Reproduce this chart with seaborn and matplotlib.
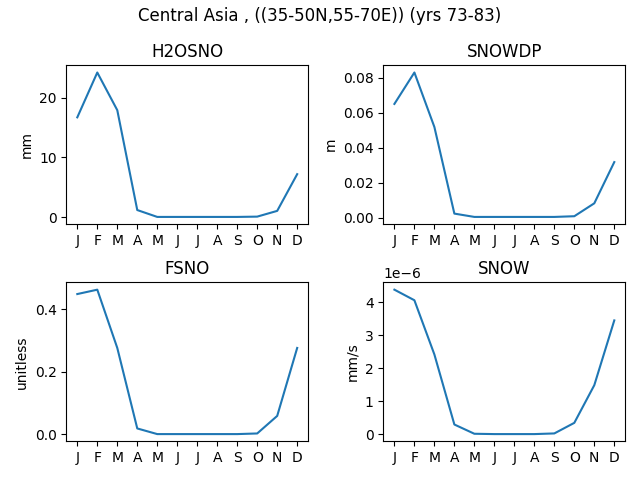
import matplotlib
matplotlib.use("Agg")
import matplotlib.pyplot as plt
import seaborn as sns
import pandas as pd

months = ["J", "F", "M", "A", "M", "J", "J", "A", "S", "O", "N", "D"]

h2osno = [16.7, 24.2, 17.9, 1.2, 0.05, 0.05, 0.05, 0.05, 0.05, 0.1, 1.06, 7.2]
snowdp = [0.0651, 0.0831, 0.0519, 0.0023, 0.0004, 0.0004, 0.0004, 0.0004, 0.0004, 0.0008, 0.0082, 0.0318]
fsno = [0.448, 0.462, 0.276, 0.019, 0.001, 0.001, 0.001, 0.001, 0.001, 0.003, 0.059, 0.276]
snow = [4.38e-6, 4.06e-6, 2.42e-6, 0.30e-6, 0.02e-6, 0.01e-6, 0.01e-6, 0.01e-6, 0.03e-6, 0.35e-6, 1.49e-6, 3.45e-6]

panels = [
    ("H2OSNO", "mm", h2osno),
    ("SNOWDP", "m", snowdp),
    ("FSNO", "unitless", fsno),
    ("SNOW", "mm/s", snow),
]

fig, axes = plt.subplots(2, 2, figsize=(6.4, 4.8), dpi=100)
fig.suptitle("Central Asia , ((35-50N,55-70E)) (yrs 73-83)", y=0.985)

for ax, (name, unit, vals) in zip(axes.flat, panels):
    df = pd.DataFrame({"month": range(12), "value": vals})
    sns.lineplot(data=df, x="month", y="value", ax=ax, color="#1f77b4")
    ax.set_title(name)
    ax.set_ylabel(unit)
    ax.set_xlabel("")
    ax.set_xticks(range(12))
    ax.set_xticklabels(months)

# spacing matched to the reference layout
plt.subplots_adjust(left=0.1036, right=0.977, top=0.864, bottom=0.0806,
                    wspace=0.311, hspace=0.367)
plt.savefig("out.png")
